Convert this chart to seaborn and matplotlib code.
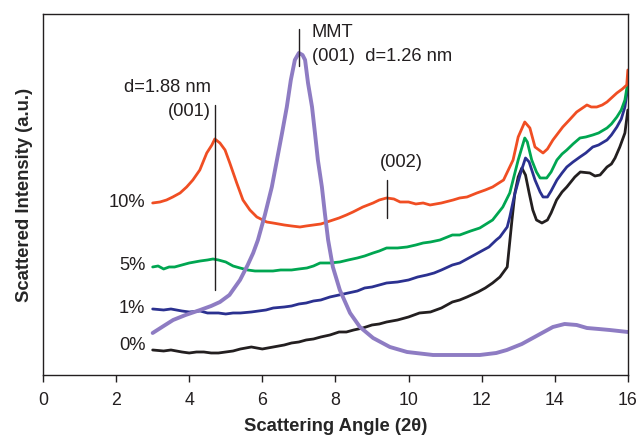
import matplotlib
matplotlib.use("Agg")
import matplotlib.pyplot as plt
import seaborn as sns
import pandas as pd

sns.set_style("white")
plt.rcParams["font.family"] = ["Liberation Sans", "DejaVu Sans"]

# 2θ values (degrees) and intensities (arbitrary units) for each sample
x_0 = [3.0, 3.3, 3.5, 3.8, 4.0, 4.2, 4.4, 4.6, 4.8, 5.0, 5.2, 5.4, 5.7, 6.0, 6.3, 6.6,
       6.8, 7.0, 7.2, 7.4, 7.6, 7.85, 8.1, 8.3, 8.5, 8.75, 9.0, 9.2, 9.4, 9.7,
       10.0, 10.3, 10.6, 10.9, 11.2, 11.4, 11.6, 11.9, 12.1, 12.3, 12.5, 12.7, 12.83,
       12.91, 13.0, 13.1, 13.2, 13.3, 13.4, 13.5, 13.65, 13.8, 13.9, 14.05, 14.2,
       14.33, 14.55, 14.7, 14.96, 15.1, 15.24, 15.43, 15.55, 15.65, 15.78, 15.92, 16.0]
y_0 = [25, 24, 25, 23, 22, 23, 23, 22, 22, 23, 24, 26, 28, 26, 28, 30,
       32, 33, 35, 36, 38, 40, 43, 43, 45, 47, 50, 51, 53, 55,
       58, 62, 63, 67, 73, 75, 78, 83, 87, 92, 98, 108, 155,
       182, 198, 207, 200, 182, 165, 155, 152, 155, 162, 175, 183,
       188, 198, 203, 202, 199, 200, 208, 211, 217, 228, 242, 265]

x_1 = [3.0, 3.3, 3.5, 3.8, 4.0, 4.3, 4.5, 4.8, 5.0, 5.2, 5.4, 5.7, 5.9, 6.1, 6.3, 6.6,
       6.8, 7.0, 7.2, 7.4, 7.6, 7.85, 8.1, 8.35, 8.6, 8.8, 9.0, 9.2, 9.4, 9.7,
       10.0, 10.25, 10.5, 10.7, 10.9, 11.2, 11.4, 11.6, 11.95, 12.2, 12.4, 12.5,
       12.7, 12.77, 12.9, 13.05, 13.2, 13.3, 13.46, 13.6, 13.68, 13.8, 13.9, 14.06,
       14.2, 14.33, 14.5, 14.69, 14.85, 15.04, 15.2, 15.43, 15.55, 15.7, 15.82,
       15.92, 16.0]
y_1 = [66, 65, 66, 64, 63, 64, 62, 62, 61, 62, 62, 63, 64, 65, 67, 68,
       69, 71, 72, 74, 75, 78, 80, 82, 84, 87, 88, 90, 92, 93,
       95, 98, 100, 102, 105, 110, 112, 116, 123, 128, 135, 138,
       148, 158, 180, 200, 217, 213, 195, 183, 178, 178, 184, 195,
       202, 208, 213, 218, 222, 228, 230, 235, 240, 248, 256,
       268, 288]

x_5 = [3.0, 3.15, 3.3, 3.45, 3.6, 3.8, 4.0, 4.15, 4.3, 4.5, 4.65, 4.8, 5.0, 5.2, 5.39,
       5.6, 5.8, 6.0, 6.29, 6.5, 6.8, 7.0, 7.22, 7.4, 7.58, 7.85, 8.12, 8.35, 8.6,
       8.8, 9.03, 9.2, 9.4, 9.7, 9.96, 10.2, 10.4, 10.6, 10.86, 11.2, 11.4, 11.7,
       11.95, 12.3, 12.58, 12.77, 13.0, 13.18, 13.25, 13.37, 13.5, 13.6, 13.78, 13.9,
       14.06, 14.2, 14.33, 14.5, 14.69, 14.85, 15.04, 15.2, 15.43, 15.55, 15.7,
       15.82, 15.92, 16.0]
y_5 = [108, 109, 106, 108, 108, 110, 112, 113, 114, 115, 116, 115, 113, 109, 107,
       105, 104, 104, 104, 105, 105, 106, 107, 109, 112, 112, 113, 115, 117,
       119, 122, 124, 127, 127, 128, 130, 132, 133, 135, 140, 140, 144,
       147, 155, 168, 182, 215, 237, 233, 215, 203, 197, 197, 203,
       215, 221, 225, 231, 237, 238, 240, 242, 247, 251, 258,
       265, 275, 293]

x_10 = [3.0, 3.2, 3.38, 3.55, 3.75, 3.93, 4.1, 4.29, 4.48, 4.62, 4.7, 4.84, 4.98, 5.11,
        5.3, 5.47, 5.66, 5.85, 6.12, 6.29, 6.6, 6.8, 7.03, 7.2, 7.4, 7.6, 7.77, 8.1,
        8.3, 8.48, 8.75, 9.03, 9.2, 9.4, 9.6, 9.77, 10.0, 10.2, 10.4, 10.59, 10.9,
        11.22, 11.4, 11.6, 11.87, 12.1, 12.3, 12.6, 12.86, 13.0, 13.18, 13.32, 13.46,
        13.68, 13.8, 13.95, 14.22, 14.4, 14.6, 14.88, 15.0, 15.15, 15.3, 15.43, 15.7,
        15.85, 15.97, 16.0]
y_10 = [172, 173, 175, 178, 182, 188, 195, 205, 222, 230, 236, 232, 225, 212,
        192, 175, 165, 158, 153, 152, 150, 149, 148, 149, 150, 151, 153, 157,
        160, 163, 168, 172, 175, 177, 176, 173, 173, 171, 172, 170, 172,
        175, 177, 178, 182, 185, 188, 195, 215, 238, 253, 247, 228,
        222, 226, 235, 248, 255, 263, 270, 268, 268, 270, 273, 282,
        286, 290, 305]

x_mmt = [3.0, 3.3, 3.56, 3.9, 4.3, 4.6, 4.84, 5.1, 5.39, 5.6, 5.75, 5.88, 6.07, 6.26,
         6.4, 6.54, 6.67, 6.78, 6.89, 7.0, 7.1, 7.17, 7.25, 7.36, 7.44, 7.52, 7.63,
         7.71, 7.8, 7.93, 8.12, 8.4, 8.67, 9.03, 9.49, 9.96, 10.67, 11.3, 11.95,
         12.4, 12.69, 13.1, 13.4, 13.7, 13.95, 14.27, 14.6, 14.88, 15.2, 15.5, 16.0]
y_mmt = [42, 49, 55, 60, 65, 69, 73, 80, 95, 110, 122, 135, 160, 188,
         215, 242, 268, 295, 315, 322, 320, 315, 292, 268, 242, 215, 188,
         162, 135, 108, 85, 62, 48, 37, 28, 23, 20, 20, 20,
         22, 25, 31, 37, 43, 48, 51, 50, 47, 46, 45, 43]

series = [
    ("0%", x_0, y_0, "#231f20", 2.0),
    ("1%", x_1, y_1, "#2b3190", 2.0),
    ("5%", x_5, y_5, "#00a651", 2.0),
    ("10%", x_10, y_10, "#f04e23", 2.0),
    ("MMT", x_mmt, y_mmt, "#8e7cc3", 2.8),
]

# Label positions at the left end of each composite curve
pct_labels = ["10%", "5%", "1%", "0%"]
pct_label_y = [172, 109, 66, 29]

fig = plt.figure(figsize=(6.4, 4.37), dpi=100)
ax = fig.add_axes([0.0672, 0.1419, 0.9138, 0.8261])

for name, xs, ys, color, lw in series:
    df = pd.DataFrame({"angle": xs, "intensity": ys})
    sns.lineplot(data=df, x="angle", y="intensity", color=color, linewidth=lw,
                 sort=False, estimator=None, ax=ax)

ax.set_xlim(0, 16)
ax.set_ylim(0, 361)
ax.set_xticks(range(0, 17, 2))
ax.set_yticks([])
ax.tick_params(axis="x", direction="out", length=5, width=1, labelsize=12.8,
               pad=7, colors="#231f20", bottom=True)
for s in ax.spines.values():
    s.set_color("#231f20")
    s.set_linewidth(1.0)

ax.set_xlabel("Scattering Angle (2θ)", fontsize=13.3, fontweight="bold", labelpad=7)
ax.set_ylabel("Scattered Intensity (a.u.)", fontsize=13.3, fontweight="bold", labelpad=7)

fs = 13.2
tc = "#231f20"
for lab, yy in zip(pct_labels, pct_label_y):
    ax.text(2.8, yy, lab, ha="right", va="center", fontsize=fs, color=tc)

# Peak markers
ax.plot([4.7, 4.7], [85, 270], color=tc, lw=1.0)
ax.text(4.6, 287, "d=1.88 nm", ha="right", va="center", fontsize=fs, color=tc)
ax.text(4.6, 263, "(001)", ha="right", va="center", fontsize=fs, color=tc)

ax.plot([7.0, 7.0], [309, 346], color=tc, lw=1.0)
ax.text(7.35, 342, "MMT", ha="left", va="center", fontsize=fs, color=tc)
ax.text(7.35, 318, "(001)  d=1.26 nm", ha="left", va="center", fontsize=fs, color=tc)

ax.plot([9.4, 9.4], [157, 195], color=tc, lw=1.0)
ax.text(9.8, 212, "(002)", ha="center", va="center", fontsize=fs, color=tc)

fig.savefig("out.png", dpi=100)
